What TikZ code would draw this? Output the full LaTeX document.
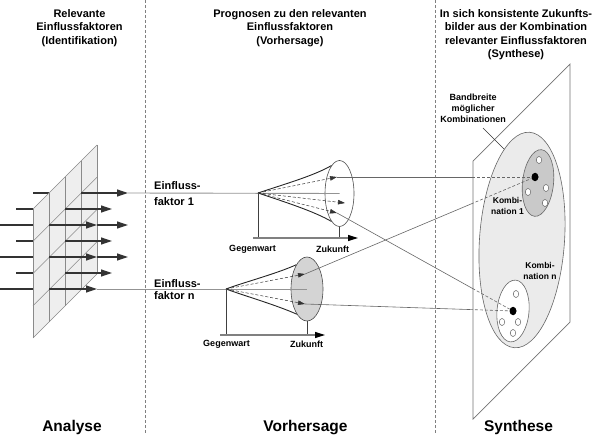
\documentclass[tikz,border=0pt]{standalone}
\usepackage{fontspec}
\setmainfont{Liberation Sans}
\usetikzlibrary{arrows.meta,positioning,shapes.geometric}
\definecolor{gridline}{HTML}{8A8A8A}
\definecolor{planefill}{HTML}{EEEEEE}
\definecolor{bandfill}{HTML}{EBEBEB}
\definecolor{combofill}{HTML}{C9C9C9}
\definecolor{conefill}{HTML}{D4D4D4}
\begin{document}
\begin{tikzpicture}[x=1pt,y=-1pt,>={Triangle[length=11pt,width=7pt]},
  head/.style={font=\bfseries\fontsize{11}{13.3}\selectfont,align=center,inner sep=0,anchor=north},
  phase/.style={font=\bfseries\fontsize{15.5}{18}\selectfont,inner sep=0,anchor=base},
  factor/.style={font=\bfseries\fontsize{11}{16}\selectfont,align=left,inner sep=0,anchor=north west},
  axislabel/.style={font=\bfseries\fontsize{9}{10}\selectfont,inner sep=0},
  small/.style={font=\bfseries\fontsize{8.5}{10.5}\selectfont,align=center,inner sep=0},
  separator/.style={draw=gray,densely dashed,line width=0.5pt},
  gridl/.style={draw=gridline,line width=0.6pt},
  feed/.style={draw=black!80,line width=1.2pt},
  guide/.style={draw=gray!85,line width=0.9pt},
  link/.style={draw=gray!80!black,line width=0.6pt},
  trend/.style={densely dashed,line width=0.5pt,draw=black!80,-{Triangle[length=7pt,width=4.5pt]}},
  timeaxis/.style={draw=gray,line width=1.2pt,-{Triangle[length=10pt,width=6pt,color=black]}},
  future/.style={ellipse,draw=black!70,line width=0.6pt,inner sep=0},
  hole/.style={ellipse,draw=gray!80!black,fill=white,inner sep=0,minimum width=5.5pt,minimum height=7pt,line width=0.5pt},
  state/.style={ellipse,fill=black,inner sep=0,minimum width=7pt,minimum height=8.5pt},
]
\useasboundingbox (0,0) rectangle (596,435);
% phase separators
\draw[separator] (145,0) -- (145,435);
\draw[separator] (435,0) -- (435,435);

% headings
\node[head] (hdAnalyse) at (79.5,9.5) {Relevante\\Einflussfaktoren\\(Identifikation)};
\node[head] (hdForecast) at (290,9.5) {Prognosen zu den relevanten\\Einflussfaktoren\\(Vorhersage)};
\node[head] (hdSynthesis) at (516,9.5) {In sich konsistente Zukunfts-\\bilder aus der Kombination\\relevanter Einflussfaktoren\\(Synthese)};
\node[phase] (phAnalyse) at (72,431) {Analyse};
\node[phase] (phForecast) at (305.5,431) {Vorhersage};
\node[phase] (phSynthesis) at (518.5,431) {Synthese};

% analysis: factors passing the plane
\foreach \y/\s/\e in {193/33/49,209/16/33,225/0/33,241/16/33,257/0/33,273/16/33,289/0/33}
  \draw[feed] (\s,\y) -- (\e,\y);
\fill[planefill] (33,209) -- (97,145) -- (97,274) -- (33,338) -- cycle;
\foreach \x in {33,49,65,81,97}
  \draw[gridl] (\x,{209-(\x-33)}) -- (\x,{338-(\x-33)});
\foreach \i in {0,...,4}
  \draw[gridl] (33,{209+32.25*\i}) -- (97,{145+32.25*\i});
\foreach \y in {209,241,273}
  \draw[feed,->] (65,\y) -- (112,\y);
\foreach \y in {225,257,289}
  \draw[feed,->] (49,\y) -- (97,\y);
\foreach \y in {225,257}
  \draw[feed,->] (97,\y) -- (128,\y);
\draw[feed,->] (81,193) -- (128,193);
\coordinate (out1) at (128,193);
\coordinate (outN) at (97,289);

% forecast, factor 1
\node[factor] (fac1) at (154,181.5) {Einfluss-\\faktor 1};
\node[future,minimum width=29pt,minimum height=66pt] (fut1) at (339.5,193.5) {};
\coordinate (apex1) at (258,193);
\coordinate (axis1) at (358,238);
\draw[guide] (out1) -- (fut1.center);
\draw[black!85,line width=0.9pt] (apex1) .. controls +(27,-9) and +(-17,10) .. (fut1.106);
\draw[black!85,line width=0.9pt] (apex1) .. controls +(27,9) and +(-17,-10) .. (fut1.254);
\coordinate (tip1a) at (337,177);
\coordinate (tip1b) at (345,203);
\coordinate (tip1c) at (337,213);
\foreach \t in {tip1a,tip1b,tip1c}
  \draw[trend] (apex1) -- (\t);
\draw[black!75,line width=0.9pt] (apex1) -- (apex1 |- axis1);
\draw[black!75,line width=0.9pt] (fut1.south) -- (fut1.south |- axis1);
\draw[timeaxis] (253,238) -- (axis1);
\node[axislabel] (now1) at (252.5,249) {Gegenwart};
\node[axislabel] (then1) at (332.5,249) {Zukunft};

% forecast, factor n
\node[factor,font=\bfseries\fontsize{11}{12}\selectfont] (facN) at (154,279.5) {Einfluss-\\faktor n};
\node[future,fill=conefill,minimum width=32pt,minimum height=64pt] (futN) at (307,289) {};
\coordinate (apexN) at (226,289);
\coordinate (axisN) at (325,335);
\draw[guide] (outN) -- (futN.center);
\draw[black!85,line width=0.9pt] (apexN) .. controls +(19,-7) and +(-20,9) .. (futN.114);
\draw[black!85,line width=0.9pt] (apexN) .. controls +(19,7) and +(-20,-9) .. (futN.248);
\coordinate (tipNa) at (305,274);
\coordinate (tipNb) at (305,304);
\foreach \t in {tipNa,tipNb}
  \draw[trend] (apexN) -- (\t);
\draw[black!75,line width=0.9pt] (apexN) -- (apexN |- axisN);
\draw[black!75,line width=0.9pt] (futN.south) -- (futN.south |- axisN);
\draw[timeaxis] (220,335) -- (axisN);
\node[axislabel] (nowN) at (226.5,344) {Gegenwart};
\node[axislabel] (thenN) at (306.5,344) {Zukunft};

% synthesis plane
\draw[draw=gray!90!black,fill=white,line width=0.7pt] (473,161) -- (570,64) -- (570,322) -- (473,419) -- cycle;
\node[ellipse,draw=black!60,fill=bandfill,line width=0.6pt,inner sep=0,minimum width=85pt,minimum height=216pt,rotate=-4] (band) at (522,240) {};
\node[ellipse,draw=black!60,fill=combofill,line width=0.6pt,inner sep=0,minimum width=31pt,minimum height=67pt,rotate=-6] (comb1) at (538,183) {};
\node[ellipse,draw=black!60,fill=white,line width=0.6pt,inner sep=0,minimum width=32pt,minimum height=62pt,rotate=-5] (combN) at (513,311) {};
\foreach \p in {(539,160),(546,188),(528,192),(545,203),(516,294),(502,322),(518,322),(513,333)}
  \node[hole] at \p {};
\node[state] (dot1) at (535,177) {};
\node[state] (dotN) at (513,311) {};
\node[small] (k1Lbl) at (507.5,206) {Kombi-\\nation 1};
\node[small] (kNLbl) at (540,271) {Kombi-\\nation n};
\node[small,font=\bfseries\fontsize{9}{11}\selectfont] (bandLbl) at (473,108) {Bandbreite\\möglicher\\Kombinationen};
\coordinate (bandFrom) at (483,128);
\coordinate (bandTo) at (504,149);
\draw[black!80,line width=0.6pt] (bandFrom) -- (bandTo);

% links from forecasts to combinations
\begin{scope}
\clip (0,0) rectangle (473,435);
\draw[link] (tip1a) -- (dot1);
\draw[link] (tip1c) -- (dotN);
\draw[link] (tipNa) -- (dot1);
\draw[link] (tipNb) -- (dotN);
\end{scope}
\begin{scope}
\clip (473,0) rectangle (596,435);
\draw[link,densely dashed] (tip1a) -- (dot1);
\draw[link,densely dashed] (tip1c) -- (dotN);
\draw[link,densely dashed] (tipNa) -- (dot1);
\draw[link,densely dashed] (tipNb) -- (dotN);
\end{scope}
\end{tikzpicture}
\end{document}
